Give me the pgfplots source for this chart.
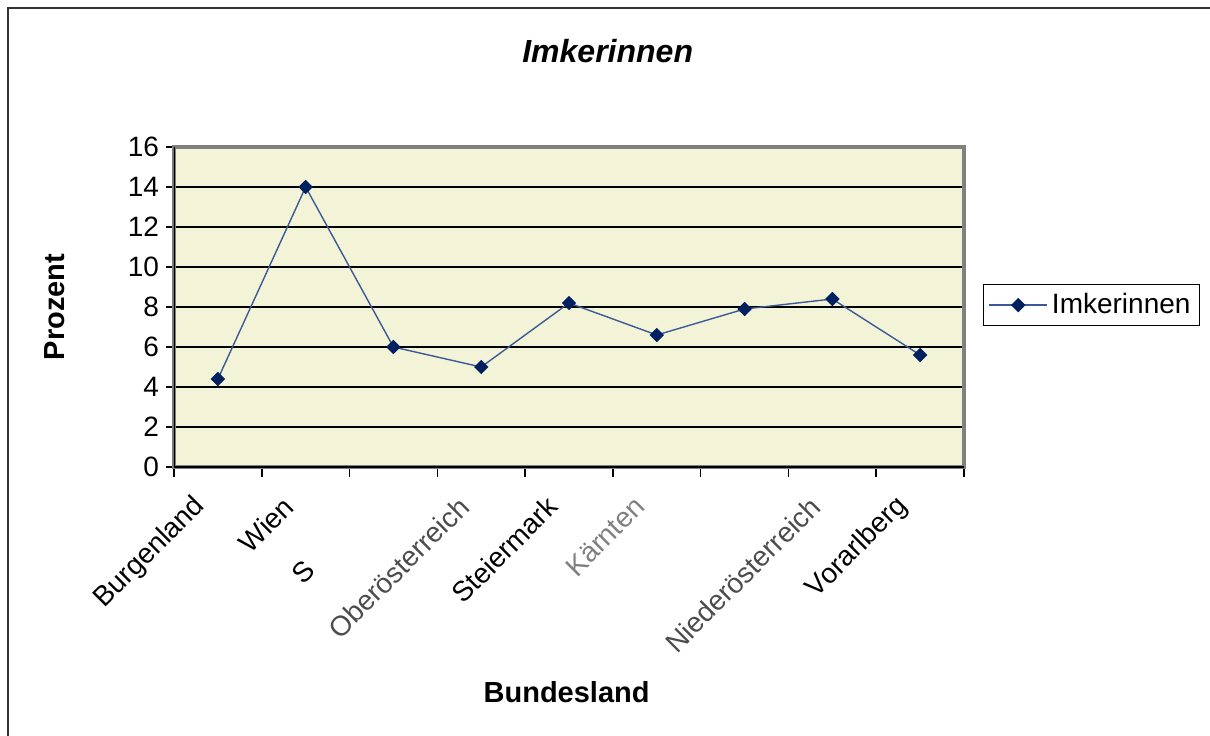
\documentclass[border=0pt]{standalone}
\usepackage{fontspec}
\setmainfont{Liberation Sans}
\usepackage{pgfplots}
\pgfplotsset{compat=1.18}
\definecolor{plotbg}{RGB}{243,243,215}
\definecolor{navy}{RGB}{0,32,96}
\definecolor{lineblue}{RGB}{60,90,150}
\begin{document}
\begin{tikzpicture}
\useasboundingbox (0,0) rectangle (605pt,367.5pt);
\fill[white] (0,0) rectangle (605pt,367.5pt);
\draw[line width=1pt, black!80] (4pt,-2pt) -- (4pt,363.5pt) -- (607pt,363.5pt);
\begin{axis}[
 at={(87pt,134pt)}, anchor=south west,
 scale only axis, width=395pt, height=160pt,
 xmin=-0.5, xmax=8.5, ymin=0, ymax=16,
 ytick={0,2,...,16},
 xtick={0,...,8},
 xticklabels={Burgenland, Wien, S\phantom{alzburg}, \textcolor{black!70}{Oberösterreich}, Steiermark, \textcolor{black!50}{Kärnten}, \phantom{Tirol}, \textcolor{black!70}{Niederösterreich}, Vorarlberg},
 minor xtick={-0.5,0.5,...,8.5},
 xtick pos=bottom, ytick pos=left,
 tick align=outside,
 major tick length=4pt,
 minor tick length=5pt,
 xtick style={draw=none},
 minor x tick style={draw=black, line width=0.8pt},
 ytick style={draw=black, line width=0.8pt},
 ymajorgrids,
 major grid style={black, line width=0.8pt},
 axis background/.style={fill=plotbg},
 axis line style={draw=black!50, line width=2pt},
 tick label style={font=\fontsize{14}{16}\selectfont},
 /pgf/number format/assume math mode=true,
 xticklabel style={xshift=-6pt, yshift=-11pt, rotate=45, anchor=east},
 label style={font=\bfseries\fontsize{14.5}{17}\selectfont},
 ylabel={Prozent},
 xlabel={Bundesland},
 ylabel style={at={(axis description cs:-0.151,0.5)}, anchor=center},
 xlabel style={at={(axis description cs:0.497,-0.703)}, anchor=center},
 title={Imkerinnen},
 title style={at={(axis description cs:0.549,1.262)}, anchor=center, font=\bfseries\itshape\fontsize{16}{19}\selectfont},
 legend style={at={(1.024,0.506)}, anchor=west, draw=black, line width=0.6pt, font=\fontsize{14}{16}\selectfont, inner sep=2.5pt},
 legend image code/.code={\draw[mark repeat=2,mark phase=2] plot coordinates {(0pt,0pt)(14.5pt,0pt)(29pt,0pt)};},
]
\addplot[color=lineblue, line width=0.7pt, mark=square*, mark size=2.2pt, mark options={fill=navy, draw=navy, solid, rotate=45}] coordinates {
(0,4.4) (1,14.0) (2,6.0) (3,5.0) (4,8.2) (5,6.6) (6,7.9) (7,8.4) (8,5.6)};
\addlegendentry{Imkerinnen}
\draw[black, line width=1pt] (rel axis cs:0,0) -- (rel axis cs:0,1);
\draw[black, line width=1pt] (rel axis cs:0,0) -- (rel axis cs:1,0);
\end{axis}
\end{tikzpicture}
\end{document}
